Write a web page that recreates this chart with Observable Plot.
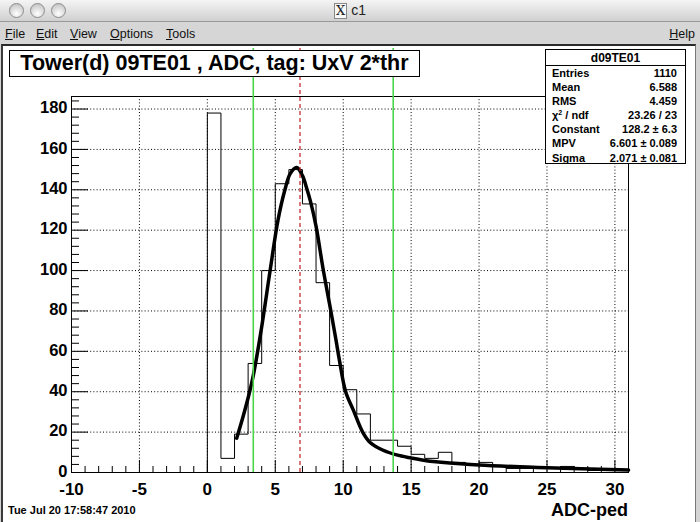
<!DOCTYPE html>
<html><head><meta charset="utf-8">
<script src="https://cdn.jsdelivr.net/npm/d3@7"></script>
<script src="https://cdn.jsdelivr.net/npm/@observablehq/plot@0.6"></script>
<style>
body{margin:0;width:700px;height:522px;overflow:hidden;position:relative;background:#d4d4d4;font-family:"Liberation Sans",Arial,sans-serif;}
#titlebar{position:absolute;left:0;top:0;width:700px;height:21px;background:linear-gradient(#f4f4f4,#d0d0d0);border-bottom:1px solid #999;}
.btn{position:absolute;top:3px;width:15px;height:15px;border-radius:50%;border:1px solid #8c8c8c;background:radial-gradient(circle at 50% 75%,#ffffff,#cfcfcf 70%,#b8b8b8);box-sizing:border-box;}
#wtitle{position:absolute;top:2px;left:0;width:700px;text-align:center;font-size:14px;color:#222;}
#wtitle .xi{display:inline-block;font-family:"DejaVu Serif",serif;font-size:13px;line-height:14px;border:1px solid #888;padding:0 1px;margin-right:4px;background:#f8f8f8;}
#menubar{position:absolute;left:0;top:22px;width:700px;height:22px;background:#d6d6d6;font-size:12.5px;color:#111;}
.m{position:absolute;top:5px;}
#canvas{position:absolute;left:1px;top:44px;width:695px;height:478px;background:#fff;border-left:2px solid #3a3a3a;border-top:2px solid #2a2a2a;border-right:1px solid #777;box-sizing:border-box;}
#chart{position:absolute;left:0;top:44px;}
#htitle{position:absolute;left:9px;top:50px;width:411px;height:27px;border:1.5px solid #000;background:#fff;box-sizing:border-box;text-align:center;font-family:"Liberation Sans Narrow","Liberation Sans",Arial,sans-serif;font-weight:bold;font-size:21.5px;line-height:24px;color:#000;}
#stats{position:absolute;left:545px;top:49px;width:141px;height:115px;border:1px solid #000;background:#fff;box-sizing:border-box;font-weight:bold;color:#000;}
#stats .hd{height:15px;border-bottom:1px solid #000;text-align:center;font-size:12px;line-height:16px;}
#stats .row{position:relative;height:14.1px;font-size:11px;line-height:14px;}
#stats .row .l{position:absolute;left:6px;}
#stats .row .v{position:absolute;right:8px;}
#stats .sup{position:relative;top:-4px;font-size:7px;line-height:0;}
#xlabel{position:absolute;right:72px;top:500px;font-weight:bold;font-size:18px;color:#000;}
#date{position:absolute;left:8px;top:504px;font-weight:bold;font-size:11px;color:#000;}
</style></head>
<body>
<div id="titlebar">
  <div class="btn" style="left:9px"></div>
  <div class="btn" style="left:30px"></div>
  <div class="btn" style="left:51px"></div>
  <div id="wtitle"><span class="xi">X</span>c1</div>
</div>
<div id="menubar">
  <span class="m" style="left:5px"><u>F</u>ile</span>
  <span class="m" style="left:36px"><u>E</u>dit</span>
  <span class="m" style="left:70px"><u>V</u>iew</span>
  <span class="m" style="left:110px"><u>O</u>ptions</span>
  <span class="m" style="left:166px"><u>T</u>ools</span>
  <span class="m" style="right:5px"><u>H</u>elp</span>
</div>
<div id="canvas"></div>
<div id="chart"></div>
<div id="htitle">Tower(d) 09TE01 , ADC, tag: UxV 2*thr</div>
<div id="stats">
  <div class="hd">d09TE01</div>
  <div class="row"><span class="l">Entries</span><span class="v">1110</span></div>
  <div class="row"><span class="l">Mean</span><span class="v">6.588</span></div>
  <div class="row"><span class="l">RMS</span><span class="v">4.459</span></div>
  <div class="row"><span class="l">&chi;<span class="sup">2</span> / ndf</span><span class="v">23.26 / 23</span></div>
  <div class="row"><span class="l">Constant</span><span class="v">128.2 &plusmn; 6.3</span></div>
  <div class="row"><span class="l">MPV</span><span class="v">6.601 &plusmn; 0.089</span></div>
  <div class="row"><span class="l">Sigma</span><span class="v">2.071 &plusmn; 0.081</span></div>
</div>
<div id="xlabel">ADC-ped</div>
<div id="date">Tue Jul 20 17:58:47 2010</div>
<script>
// histogram: lower bin edges (width 1) and counts
const binLow = [0,1,2,3,4,5,6,7,8,9,10,11,12,13,14,15,16,17,18,19,20,21,22,23,24,25,26,27,28,29,30];
const counts = [178,7,19,54,100,143,150,133,94,53,41,29,16,16,13,9,7,10,5,4,5,3,2,2,2,2,3,2,1,1,1];
// fitted Landau curve
const fitX = [2.16,2.6,3.04,3.38,3.95,4.62,5.2,5.71,6.1,6.57,7.0,7.3,7.6,8.0,8.54,9.09,9.46,9.71,10.18,10.74,11.43,11.96,12.94,13.93,15.0,16.4,17.0,20.0,25.0,31.0];
const fitY = [17,27,38,48,70,100,125,140,148,151,147,141,134,122,100,80,66,56,40,31,20,15,11,8.7,7.2,5.6,5.2,3.7,2.4,1.2];
// marker lines
const greenX = [3.38, 13.68];
const redX = [6.82];
const lineTop = 210;
// axes
const xDomain = [-10, 31];
const yDomain = [0, 186.2];
const xMajor = [-10,-5,0,5,10,15,20,25,30];
const xMinor = d3.range(-10, 32, 1).filter(v => v % 5 !== 0);
const yMajor = [0,20,40,60,80,100,120,140,160,180];
const yMinor = d3.range(0, 187, 4).filter(v => v % 20 !== 0);
const xGrid = xMajor.filter(v => v > -10);
const yGrid = yMajor.filter(v => v > 0);

const n = binLow.length;
const histPts = [{x: binLow[0], y: 0}]
  .concat(binLow.map((b, i) => ({x: b, y: counts[i]})))
  .concat([{x: binLow[n-1] + 1, y: counts[n-1]}, {x: binLow[n-1] + 1, y: 0}]);
const fitPts = fitX.map((x, i) => ({x, y: fitY[i]}));

const dotted = {stroke: "black", strokeOpacity: 1, strokeDasharray: "1,2.2"};
const chart = Plot.plot({
  width: 700, height: 478,
  marginLeft: 71, marginRight: 72, marginTop: 52, marginBottom: 50,
  style: {background: "transparent", fontFamily: "'Liberation Sans', Arial, sans-serif", overflow: "visible", color: "black"},
  x: {domain: xDomain},
  y: {domain: yDomain},
  marks: [
    Plot.gridX(xGrid, dotted),
    Plot.gridY(yGrid, dotted),
    Plot.frame({stroke: "black"}),
    Plot.line(histPts, {x: "x", y: "y", curve: "step-after", stroke: "black", strokeWidth: 1}),
    Plot.line(fitPts, {x: "x", y: "y", curve: "catmull-rom", stroke: "black", strokeWidth: 3.5}),
    Plot.ruleX(greenX, {x: d => d, y1: 0, y2: lineTop, stroke: "#4cd64c", strokeWidth: 1.6}),
    Plot.ruleX(redX, {x: d => d, y1: 0, y2: lineTop, stroke: "#c01f25", strokeWidth: 1.2, strokeDasharray: "4,3"}),
    Plot.axisX(xMinor, {tickSize: 6, dy: -6, tickFormat: () => "", label: null}),
    Plot.axisX(xMajor, {tickSize: 12, dy: -12, tickFormat: () => "", label: null}),
    Plot.axisY(yMinor, {tickSize: 8, dx: 8, tickFormat: () => "", label: null}),
    Plot.axisY(yMajor, {tickSize: 17, dx: 17, tickFormat: () => "", label: null}),
    Plot.axisX(xMajor, {tickSize: 0, tickPadding: 10, fontSize: 17, fontWeight: "bold", tickFormat: d => String(d), label: null}),
    Plot.axisY(yMajor, {tickSize: 0, tickPadding: 4, fontSize: 16.5, fontWeight: "bold", dy: -1, tickFormat: d => String(d), label: null})
  ]
});
document.getElementById("chart").appendChild(chart);
</script>
</body></html>
